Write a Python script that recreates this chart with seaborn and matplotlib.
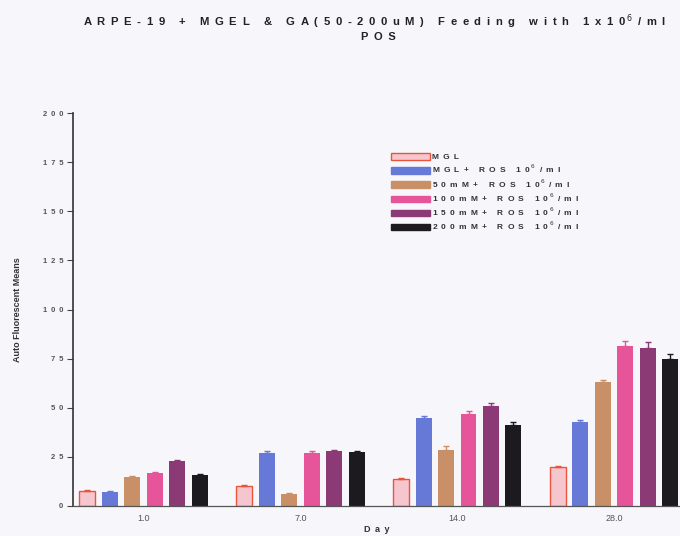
import matplotlib
matplotlib.use("Agg")
import matplotlib.pyplot as plt
import seaborn as sns
import pandas as pd
import numpy as np

days = ["1.0", "7.0", "14.0", "28.0"]
groups = ["MGL", "MGL+ ROS 10⁶/ml", "50mM+ ROS 10⁶/ml", "100mM+ ROS 10⁶/ml",
          "150mM+ ROS 10⁶/ml", "200mM+ ROS 10⁶/ml"]
means = {
    "MGL":               [7.6, 10.2, 13.7, 19.6],
    "MGL+ ROS 10⁶/ml":   [7.1, 27.0, 44.8, 42.6],
    "50mM+ ROS 10⁶/ml":  [14.9, 6.1, 28.3, 63.0],
    "100mM+ ROS 10⁶/ml": [16.6, 27.0, 46.7, 81.4],
    "150mM+ ROS 10⁶/ml": [23.0, 28.0, 50.8, 80.5],
    "200mM+ ROS 10⁶/ml": [15.6, 27.6, 41.3, 75.0],
}
errors = {
    "MGL":               [0.5, 0.5, 0.5, 0.6],
    "MGL+ ROS 10⁶/ml":   [0.3, 1.0, 0.8, 1.2],
    "50mM+ ROS 10⁶/ml":  [0.5, 0.3, 2.0, 1.0],
    "100mM+ ROS 10⁶/ml": [0.5, 1.2, 1.5, 2.8],
    "150mM+ ROS 10⁶/ml": [0.6, 0.5, 1.8, 3.2],
    "200mM+ ROS 10⁶/ml": [0.6, 0.5, 1.5, 2.2],
}
fills = ["#f6c6cf", "#6779d6", "#c98f66", "#e6559a", "#8b3a76", "#1c1a1e"]
edges = ["#e8553c", "#6779d6", "#c98f66", "#e6559a", "#8b3a76", "#1c1a1e"]
yticks = [0, 25, 50, 75, 100, 125, 150, 175, 200]

rows = []
for g in groups:
    for d, m in zip(days, means[g]):
        rows.append({"Day": d, "Group": g, "Value": m})
df = pd.DataFrame(rows)

FAM = ["Liberation Sans", "DejaVu Sans"]

def sp(s, gap="\u2002"):
    # letter-spaced text; the superscript six is drawn with mathtext
    return gap.join(list(s)).replace(gap + "⁶", "$\\,^{6}$")

bg = "#f7f7fb"
fig = plt.figure(figsize=(6.8, 5.36), dpi=100, facecolor=bg)
ax = fig.add_axes([73/680, 30/536, 1 - 73/680, (506-113)/536])
ax.set_facecolor(bg)

sns.barplot(data=df, x="Day", y="Value", hue="Group", order=days, hue_order=groups,
            palette=fills, width=0.86, gap=0.29, errorbar=None, ax=ax,
            linewidth=0, saturation=1)

bar_containers = list(ax.containers)
for i, cont in enumerate(bar_containers):
    g = groups[i]
    xs, ys = [], []
    for p in cont.patches:
        p.set_edgecolor(edges[i])
        p.set_linewidth(1.0 if i == 0 else 0)
        xs.append(p.get_x() + p.get_width() / 2)
        ys.append(p.get_height())
    ax.errorbar(xs, ys, yerr=[np.zeros(len(ys)), errors[g]], fmt="none",
                ecolor=edges[i], elinewidth=1.0, capsize=2.5, capthick=1.0)

ax.set_ylim(0, 200)
ax.set_xlim(-0.45, 3.42)
ax.set_yticks(yticks)
ax.set_yticklabels([sp(str(t)) for t in yticks], fontsize=5.5, fontweight="bold",
                   color="#555555", family=FAM)
ax.set_xticks(range(len(days)))
ax.set_xticklabels(days, fontsize=6.5, color="#555555", family=FAM)
ax.tick_params(axis="y", length=4, width=0.8, color="#444444", pad=3)
ax.tick_params(axis="x", length=0, pad=6)
for s in ["top", "right"]:
    ax.spines[s].set_visible(False)
ax.spines["left"].set_color("#333333")
ax.spines["bottom"].set_color("#555555")
ax.spines["left"].set_linewidth(1.2)
ax.spines["bottom"].set_linewidth(0.9)

ax.set_ylabel("Auto Fluorescent Means", fontsize=6.5, fontweight="bold",
              family=FAM, color="#333333", labelpad=15)
ax.set_xlabel(sp("Day"), fontsize=6.5, fontweight="bold", family=FAM,
              color="#333333", labelpad=1)

handles, labels = ax.get_legend_handles_labels()
handles = handles[:len(groups)]
leg = ax.legend(handles, [sp(l) for l in groups], loc="upper left",
                bbox_to_anchor=(315/607, (506-150)/393), frameon=False,
                prop={"size": 6, "weight": "bold", "family": FAM},
                handlelength=4.6, handleheight=0.8,
                labelspacing=0.2, handletextpad=0.3, borderaxespad=0)
for t in leg.get_texts():
    t.set_color("#333333")
for h, ec in zip(leg.legend_handles, edges):
    h.set_edgecolor(ec)
    h.set_linewidth(1.0)

fig.text(375/680, 1 - 22/536, sp("ARPE-19 + MGEL & GA(50-200uM) Feeding with 1x10⁶/ml"),
         ha="center", va="center", fontsize=8.1, fontweight="bold",
         family=FAM, color="#222222")
fig.text(378/680, 1 - 37/536, sp("POS"), ha="center", va="center", fontsize=8,
         fontweight="bold", family=FAM, color="#222222")

fig.savefig("out.png", dpi=100, facecolor=bg)
